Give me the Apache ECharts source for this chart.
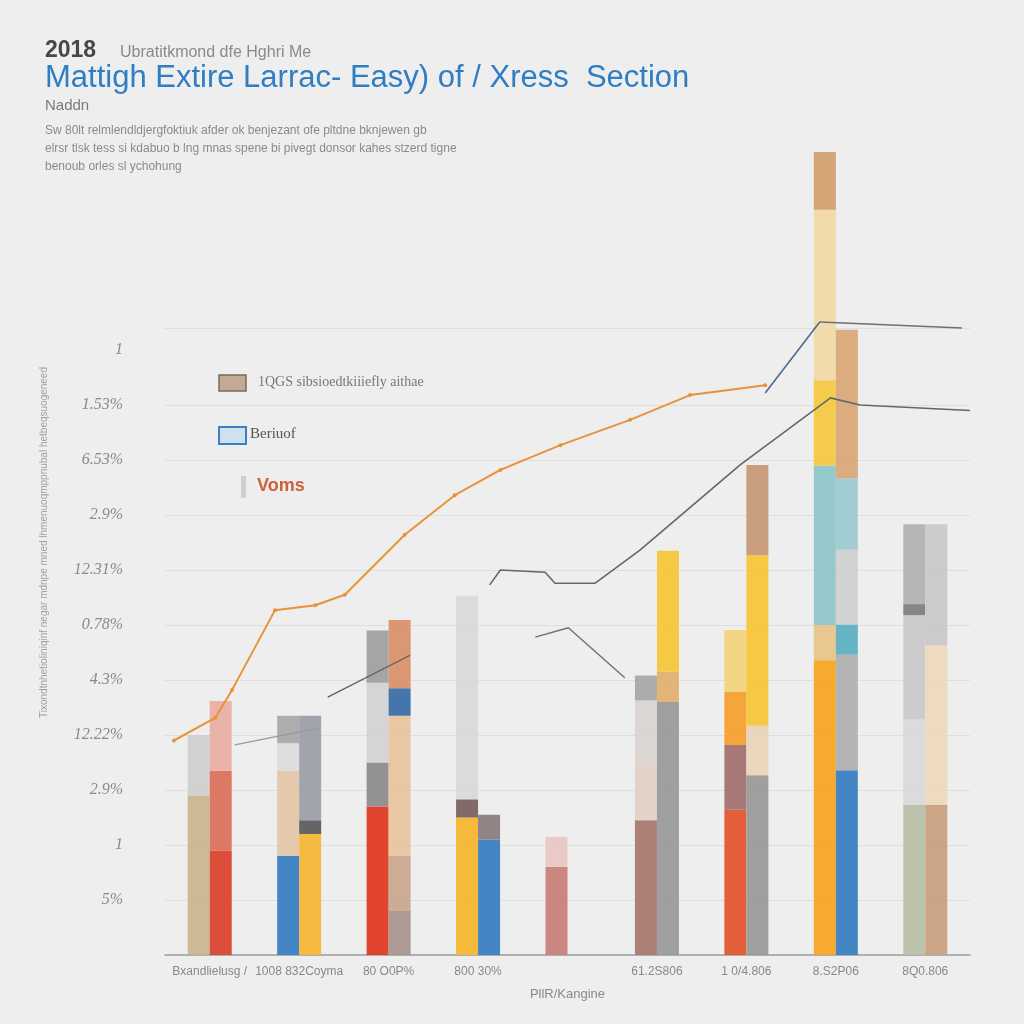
<!DOCTYPE html>
<html><head><meta charset="utf-8">
<script src="https://cdn.jsdelivr.net/npm/echarts@6/dist/echarts.min.js"></script>
<style>html,body{margin:0;padding:0;background:#eeeeee;}#c{width:1024px;height:1024px;}</style>
</head><body><div id="c"></div>
<script>
// ---- data ----
const categories = ['Bxandlielusg /', '1008 832Coyma', '80 O0P%', '800 30%', '', '61.2S806', '1 0/4.806', '8.S2P06', '8Q0.806'];
const yTickLabels = ['', '5%', '1', '2.9%', '12.22%', '4.3%', '0.78%', '12.31%', '2.9%', '6.53%', '1.53%', '1', '', '', '', ''];
const gridLevels = [1, 2, 3, 4, 5, 6, 7, 8, 9, 10, 11.4];

// left stack layers (bottom -> top)
const leftL1 = [2.9, 1.8, 2.7, 2.5, 1.6, 2.45, 2.64, 5.36, 2.73];
const leftL2 = [1.1, 1.55, 0.8, 0.33, 0.55, 1.0, 1.18, 0.64, 1.55];
const leftL3 = [0, 0.5, 1.45, 3.7, 0, 1.18, 0.96, 2.9, 1.9];
const leftL4 = [0, 0.5, 0.95, 0, 0, 0.45, 1.13, 1.55, 0.2];
const leftL5 = [0, 0, 0, 0, 0, 0, 0, 3.1, 1.45];
const leftL6 = [0, 0, 0, 0, 0, 0, 0, 1.05, 0];
// right stack layers (bottom -> top)
const rightL1 = [1.9, 2.2, 0.8, 2.1, 0, 4.6, 3.27, 3.36, 2.73];
const rightL2 = [1.45, 0.25, 1.0, 0.45, 0, 0.55, 0.9, 2.1, 2.9];
const rightL3 = [1.27, 1.9, 2.55, 0, 0, 2.2, 3.1, 0.55, 2.2];
const rightL4 = [0, 0, 0.5, 0, 0, 0, 1.64, 1.36, 0];
const rightL5 = [0, 0, 1.24, 0, 0, 0, 0, 1.3, 0];
const rightL6 = [0, 0, 0, 0, 0, 0, 0, 2.7, 0];

// line series: [category position, value]
const orangeLine = [[0.1, 3.9], [0.56, 4.31], [0.75, 4.82], [1.23, 6.27], [1.68, 6.36], [2.01, 6.55], [2.68, 7.64], [3.24, 8.36], [3.75, 8.82], [4.42, 9.27], [5.2, 9.73], [5.87, 10.18], [6.71, 10.36]];
const blueLine = [[6.71, 10.22], [7.32, 11.51]];
const topGrayLine = [[7.32, 11.51], [8.91, 11.4]];
const grayLine1 = [[0.78, 3.82], [1.73, 4.13]];
const grayLine2 = [[1.82, 4.69], [2.74, 5.45]];
const grayLine3 = [[3.63, 6.73], [3.75, 7.0], [4.25, 6.96], [4.36, 6.76], [4.81, 6.76], [5.31, 7.36], [6.43, 8.91], [7.44, 10.13], [7.77, 10.0], [9.0, 9.9]];
const grayLine4 = [[4.14, 5.78], [4.51, 5.95], [5.14, 5.04]];

// ---- styles ----
const leftColors = [
  ['#c9b58f', '#cfcfcf', null, null, null, null],
  ['#3a80c2', '#e3c6a8', '#dcdcdc', '#a9a9a9', null, null],
  ['#df3b22', '#8c8c8c', '#d3d3d3', '#a0a0a0', null, null],
  ['#f4b62f', '#7b6262', '#d9d9d9', null, null, null],
  ['#c98079', '#e8c7c3', null, null, null, null],
  ['#a8796f', '#e2d0c4', '#d9d4cf', '#a8a8a8', null, null],
  ['#e0562e', '#a27170', '#f5a030', '#f1d27c', null, null],
  ['#f5a623', '#e8c48a', '#8fc6c9', '#f4c842', '#f0d8a8', '#d2a06f'],
  ['#b8c0a8', '#d9d9d9', '#c9c9c9', '#7f7f7f', '#b2b2b2', null]
];
const rightColors = [
  ['#da442f', '#da725c', '#e8b0a2', null, null, null],
  ['#f6b636', '#5d5d5d', '#9aa0a6', null, null, null],
  ['#a99590', '#c9a88f', '#e8c4a0', '#3a6fa8', '#d9906a', null],
  ['#3a7fc1', '#8b7d7d', null, null, null, null],
  [null, null, null, null, null, null],
  ['#9a9a9a', '#e0b070', '#f5c63a', null, null, null],
  ['#9a9a98', '#e8d4b8', '#f5c53a', '#c79a78', null, null],
  ['#3a7fc1', '#b0b0b0', '#5cb0c0', '#d0d0d0', '#9ccad0', '#d8a878'],
  ['#c8a080', '#ecd8bc', '#c8c8c8', null, null, null]
];

function layerSeries(values, colors, layerIdx, stack) {
  return {
    type: 'bar', stack: stack, barWidth: 22, barGap: '0%',
    xAxisIndex: 0, yAxisIndex: 0, silent: true,
    data: values.map((v, i) => ({ value: v, itemStyle: { color: colors[i][layerIdx] || 'transparent', opacity: 0.95 } }))
  };
}
const series = [];
// faint horizontal guide lines (behind bars)
series.push({ type: 'line', xAxisIndex: 1, yAxisIndex: 0, data: [], silent: true, z: 0,
  markLine: { silent: true, symbol: 'none', z: 0, label: { show: false },
    lineStyle: { color: '#dedede', width: 1, type: 'solid' },
    data: gridLevels.map(v => ({ yAxis: v })) } });
[leftL1, leftL2, leftL3, leftL4, leftL5, leftL6].forEach((arr, k) => series.push(layerSeries(arr, leftColors, k, 'left')));
[rightL1, rightL2, rightL3, rightL4, rightL5, rightL6].forEach((arr, k) => series.push(layerSeries(arr, rightColors, k, 'right')));

function lineSeries(data, color, width, sym) {
  return { type: 'line', xAxisIndex: 1, yAxisIndex: 0, data: data, silent: true,
    symbol: sym ? 'circle' : 'none', symbolSize: 4, itemStyle: { color: color },
    lineStyle: { color: color, width: width }, z: 5 };
}
series.push(lineSeries(orangeLine, '#e8923a', 2, true));
series.push(lineSeries(blueLine, '#4a6a90', 1.6, false));
series.push(lineSeries(topGrayLine, '#707070', 1.6, false));
series.push(lineSeries(grayLine1, '#9a9a9a', 1.4, false));
series.push(lineSeries(grayLine2, '#606060', 1.4, false));
series.push(lineSeries(grayLine3, '#666666', 1.6, false));
series.push(lineSeries(grayLine4, '#707070', 1.4, false));

const chart = echarts.init(document.getElementById('c'));
chart.setOption({
  backgroundColor: '#eeeeee',
  animation: false,
  grid: { left: 165, right: 54, top: 130, bottom: 69 },
  xAxis: [
    { type: 'category', data: categories,
      axisLine: { lineStyle: { color: '#9a9a9a', width: 1.5 } }, axisTick: { show: false },
      axisLabel: { color: '#888', fontSize: 12, fontFamily: 'Liberation Sans', margin: 11, interval: 0 },
      name: 'PllR/Kangine', nameLocation: 'middle', nameGap: 33,
      nameTextStyle: { color: '#8a8a8a', fontSize: 13, fontFamily: 'Liberation Sans' } },
    { type: 'value', min: 0, max: 9, show: false }
  ],
  yAxis: [{ type: 'value', min: 0, max: 15, interval: 1,
    axisLine: { show: false }, axisTick: { show: false },
    splitLine: { show: false },
    axisLabel: { color: '#8a8a8a', fontSize: 16, fontStyle: 'italic', fontFamily: 'Liberation Serif', margin: 42,
      formatter: (v) => yTickLabels[Math.round(v)] || '' },
    name: 'Tixondtnhetioliniqinf negar mdnpe mned lhmenuoqmppnubal hetbeqsuogeneed', nameLocation: 'middle', nameRotate: 90, nameGap: 116,
    nameTextStyle: { color: '#a0a0a0', fontSize: 10, fontFamily: 'Liberation Sans' } }],
  graphic: [
    { type: 'text', left: 45, top: 39, style: { text: '2018', fill: '#474747', font: 'bold 23px Liberation Sans' } },
    { type: 'text', left: 120, top: 45, style: { text: 'Ubratitkmond dfe Hghri Me', fill: '#8a8a8a', font: '16px Liberation Sans' } },
    { type: 'text', left: 45, top: 63, style: { text: 'Mattigh Extire Larrac- Easy) of / Xress  Section', fill: '#2f7dc2', font: '31px Liberation Sans' } },
    { type: 'text', left: 45, top: 98, style: { text: 'Naddn', fill: '#7a7a7a', font: '15px Liberation Sans' } },
    { type: 'text', left: 45, top: 125, style: { text: 'Sw 80lt relmlendldjergfoktiuk afder ok benjezant ofe pltdne bknjewen gb', fill: '#8a8a8a', font: '12px Liberation Sans' } },
    { type: 'text', left: 45, top: 143, style: { text: 'elrsr tlsk tess si kdabuo b lng mnas spene bi pivegt donsor kahes stzerd tigne', fill: '#8a8a8a', font: '12px Liberation Sans' } },
    { type: 'text', left: 45, top: 161, style: { text: 'benoub orles sl ychohung', fill: '#8a8a8a', font: '12px Liberation Sans' } },
    // legend
    { type: 'rect', shape: { x: 219, y: 375, width: 27, height: 16 }, style: { fill: '#c2ab92', stroke: '#7a6a5a', lineWidth: 1.5 } },
    { type: 'text', left: 258, top: 375, style: { text: '1QGS sibsioedtkiiiefly aithae', fill: '#777', font: '14px Liberation Serif' } },
    { type: 'rect', shape: { x: 219, y: 427, width: 27, height: 17 }, style: { fill: '#cfe0ee', stroke: '#3a80c2', lineWidth: 2 } },
    { type: 'text', left: 250, top: 427, style: { text: 'Beriuof', fill: '#555', font: '15px Liberation Serif' } },
    { type: 'rect', shape: { x: 241, y: 476, width: 5, height: 22 }, style: { fill: '#cfcfcf' } },
    { type: 'text', left: 257, top: 477, style: { text: 'Voms', fill: '#d0603a', font: 'bold 18px Liberation Sans' } }
  ],
  series: series
});
</script></body></html>
